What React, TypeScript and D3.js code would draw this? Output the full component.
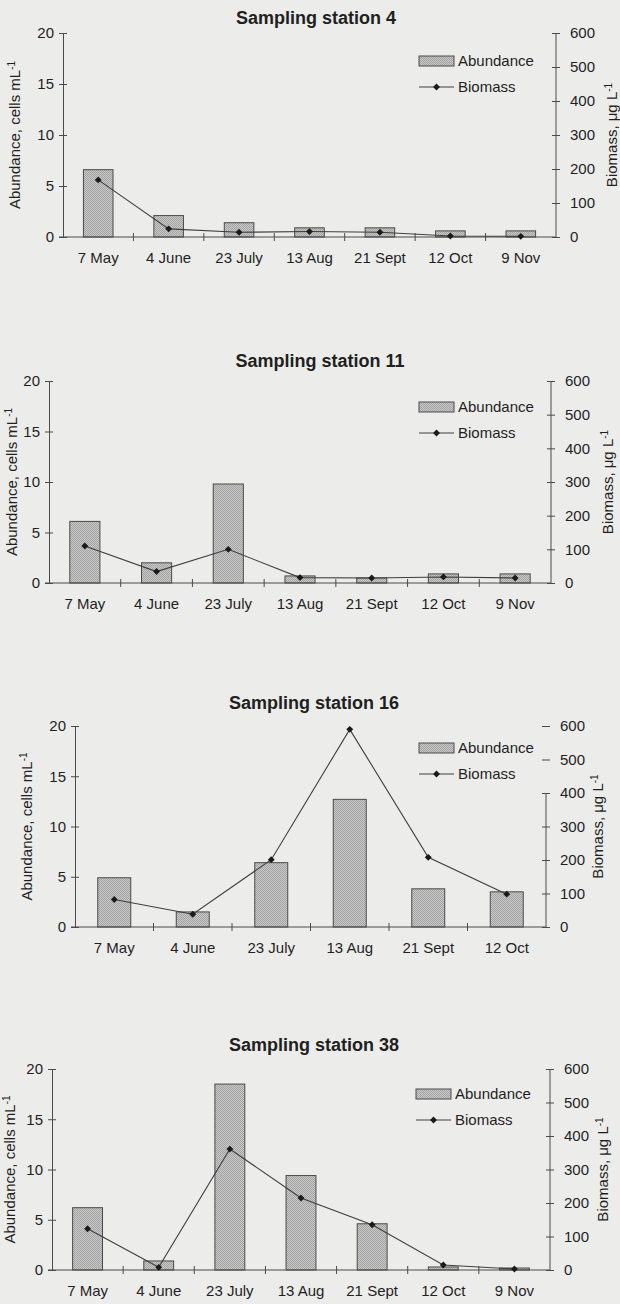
// App.tsx
import React, { useRef, useEffect } from "react";
import * as d3 from "d3";

const categories7 = ["7 May", "4 June", "23 July", "13 Aug", "21 Sept", "12 Oct", "9 Nov"];
const categories6 = ["7 May", "4 June", "23 July", "13 Aug", "21 Sept", "12 Oct"];

const abundanceTicks = [0, 5, 10, 15, 20];
const biomassTicks = [0, 100, 200, 300, 400, 500, 600];

// station 4
const st4Abundance = [6.6, 2.1, 1.4, 0.9, 0.9, 0.6, 0.6];
const st4Biomass = [168, 24, 14, 16, 14, 3, 2];
// station 11
const st11Abundance = [6.1, 2.0, 9.8, 0.7, 0.5, 0.9, 0.9];
const st11Biomass = [110, 34, 100, 16, 15, 18, 15];
// station 16
const st16Abundance = [4.9, 1.5, 6.4, 12.7, 3.8, 3.5];
const st16Biomass = [82, 38, 201, 590, 208, 98];
// station 38
const st38Abundance = [6.2, 0.9, 18.5, 9.4, 4.6, 0.3, 0.2];
const st38Biomass = [123, 8, 361, 215, 135, 15, 3];

const panels = [
  {
    title: "Sampling station 4", cats: categories7, abundance: st4Abundance, biomass: st4Biomass,
    left: 63, right: 556, top: 33, bottom: 237, titleX: 316, titleY: 24,
    yLabelX: 15, y2LabelX: 612, legX: 419, legY: 56, axisTop: 600,
  },
  {
    title: "Sampling station 11", cats: categories7, abundance: st11Abundance, biomass: st11Biomass,
    left: 49, right: 551, top: 381, bottom: 583, titleX: 320, titleY: 367,
    yLabelX: 12, y2LabelX: 608, legX: 419, legY: 402, axisTop: 600,
  },
  {
    title: "Sampling station 16", cats: categories6, abundance: st16Abundance, biomass: st16Biomass,
    left: 75, right: 546, top: 726, bottom: 927, titleX: 314, titleY: 709,
    yLabelX: 27, y2LabelX: 598, legX: 419, legY: 743, axisTop: 400,
  },
  {
    title: "Sampling station 38", cats: categories7, abundance: st38Abundance, biomass: st38Biomass,
    left: 52, right: 550, top: 1069, bottom: 1270, titleX: 314, titleY: 1051,
    yLabelX: 10, y2LabelX: 603, legX: 416, legY: 1089, axisTop: 600,
  },
];

const FONT = "'Liberation Sans', Arial, Helvetica, sans-serif";
const INK = "#1f1f1f";
const AXIS = "#4a4a4a";
const FS = 15;

const App = () => {
  const ref = useRef<SVGSVGElement>(null);

  useEffect(() => {
    const svg = d3.select(ref.current);
    svg.selectAll("*").remove();

    // dotted bar fill
    const defs = svg.append("defs");
    const pat = defs
      .append("pattern")
      .attr("id", "dots")
      .attr("patternUnits", "userSpaceOnUse")
      .attr("width", 2)
      .attr("height", 2);
    pat.append("rect").attr("width", 2).attr("height", 2).attr("fill", "#c9c9c9");
    pat.append("rect").attr("width", 1).attr("height", 1).attr("fill", "#a2a2a2");
    pat.append("rect").attr("x", 1).attr("y", 1).attr("width", 1).attr("height", 1).attr("fill", "#a2a2a2");

    svg.append("rect").attr("width", 620).attr("height", 1304).attr("fill", "#ececea");

    const diamond = (d3 as any).symbolDiamond2 ?? d3.symbolDiamond;
    const marker = d3.symbol().type(diamond).size(30);

    panels.forEach((p) => {
      const g = svg.append("g").style("font-family", FONT).attr("fill", INK);

      const x = d3
        .scaleBand<string>()
        .domain(p.cats)
        .range([p.left, p.right])
        .paddingInner(0.58)
        .paddingOuter(0.29);
      const y = d3.scaleLinear().domain([0, 20]).range([p.bottom, p.top]);
      const y2 = d3.scaleLinear().domain([0, 600]).range([p.bottom, p.top]);
      const step = x.step();

      // title
      g.append("text")
        .attr("x", p.titleX)
        .attr("y", p.titleY)
        .attr("text-anchor", "middle")
        .attr("font-size", 18)
        .attr("font-weight", "bold")
        .text(p.title);

      // bars
      g.selectAll("rect.bar")
        .data(p.cats)
        .join("rect")
        .attr("class", "bar")
        .attr("x", (c) => x(c)!)
        .attr("width", x.bandwidth())
        .attr("y", (c, i) => y(p.abundance[i]))
        .attr("height", (c, i) => p.bottom - y(p.abundance[i]))
        .attr("fill", "url(#dots)")
        .attr("stroke", "#4a4a4a")
        .attr("stroke-width", 1);

      // left axis
      const yAxis = d3.axisLeft(y).tickValues(abundanceTicks).tickSize(0).tickPadding(9);
      const ga = g.append("g").attr("transform", `translate(${p.left},0)`).call(yAxis);
      ga.select(".domain").attr("stroke", AXIS);
      ga.selectAll("text").attr("font-size", FS).attr("fill", INK).style("font-family", FONT);
      ga.selectAll(".tick")
        .append("line")
        .attr("x1", -4)
        .attr("x2", 4)
        .attr("stroke", AXIS);

      // right axis
      const yAxis2 = d3.axisRight(y2).tickValues(biomassTicks).tickSize(0).tickPadding(14);
      const gb = g.append("g").attr("transform", `translate(${p.right},0)`).call(yAxis2);
      gb.select(".domain").remove();
      gb.append("line")
        .attr("y1", y2(0))
        .attr("y2", y2(p.axisTop))
        .attr("stroke", AXIS);
      gb.selectAll("text").attr("font-size", FS).attr("fill", INK).style("font-family", FONT);
      gb.selectAll(".tick")
        .append("line")
        .attr("x1", -4)
        .attr("x2", 4)
        .attr("stroke", AXIS);

      // x axis with category separators
      g.append("line")
        .attr("x1", p.left - 4)
        .attr("x2", p.right)
        .attr("y1", p.bottom)
        .attr("y2", p.bottom)
        .attr("stroke", AXIS);
      g.selectAll("line.sep")
        .data(p.cats.slice(1))
        .join("line")
        .attr("class", "sep")
        .attr("x1", (c) => x(c)! - (step - x.bandwidth()) / 2)
        .attr("x2", (c) => x(c)! - (step - x.bandwidth()) / 2)
        .attr("y1", p.bottom - 4)
        .attr("y2", p.bottom + 4)
        .attr("stroke", AXIS);
      g.selectAll("text.cat")
        .data(p.cats)
        .join("text")
        .attr("class", "cat")
        .attr("x", (c) => x(c)! + x.bandwidth() / 2)
        .attr("y", p.bottom + 26)
        .attr("text-anchor", "middle")
        .attr("font-size", FS)
        .text((c) => c);

      // axis titles
      const lt = g
        .append("text")
        .attr("transform", `translate(${p.yLabelX},${(p.top + p.bottom) / 2}) rotate(-90)`)
        .attr("text-anchor", "middle")
        .attr("dy", "0.35em")
        .attr("font-size", FS);
      lt.append("tspan").text("Abundance, cells mL");
      lt.append("tspan").attr("dy", -5).attr("font-size", 10).text("-1");

      const rt = g
        .append("text")
        .attr("transform", `translate(${p.y2LabelX},${(p.top + p.bottom) / 2}) rotate(-90)`)
        .attr("text-anchor", "middle")
        .attr("dy", "0.35em")
        .attr("font-size", FS);
      rt.append("tspan").text("Biomass, \u03bcg L");
      rt.append("tspan").attr("dy", -5).attr("font-size", 10).text("-1");

      // biomass line
      const line = d3
        .line<number>()
        .x((d, i) => x(p.cats[i])! + x.bandwidth() / 2)
        .y((d) => y2(d));
      g.append("path")
        .datum(p.biomass)
        .attr("d", line)
        .attr("fill", "none")
        .attr("stroke", "#3e3e3e")
        .attr("stroke-width", 1.1);
      g.selectAll("path.mk")
        .data(p.biomass)
        .join("path")
        .attr("class", "mk")
        .attr("transform", (d, i) => `translate(${x(p.cats[i])! + x.bandwidth() / 2},${y2(d)})`)
        .attr("d", marker)
        .attr("fill", "#1a1a1a");

      // legend
      g.append("rect")
        .attr("x", p.legX)
        .attr("y", p.legY)
        .attr("width", 35)
        .attr("height", 10)
        .attr("fill", "url(#dots)")
        .attr("stroke", "#4a4a4a");
      g.append("text")
        .attr("x", p.legX + 39)
        .attr("y", p.legY + 5)
        .attr("dy", "0.35em")
        .attr("font-size", FS)
        .text("Abundance");
      const ly = p.legY + 5 + 26;
      g.append("line")
        .attr("x1", p.legX)
        .attr("x2", p.legX + 35)
        .attr("y1", ly)
        .attr("y2", ly)
        .attr("stroke", "#3e3e3e")
        .attr("stroke-width", 1.1);
      g.append("path")
        .attr("transform", `translate(${p.legX + 17.5},${ly})`)
        .attr("d", marker)
        .attr("fill", "#1a1a1a");
      g.append("text")
        .attr("x", p.legX + 39)
        .attr("y", ly)
        .attr("dy", "0.35em")
        .attr("font-size", FS)
        .text("Biomass");
    });
  }, []);

  return (
    <div style={{ position: "absolute", left: 0, top: 0 }}>
      <svg ref={ref} width={620} height={1304} style={{ display: "block" }} />
    </div>
  );
};

export default App;
